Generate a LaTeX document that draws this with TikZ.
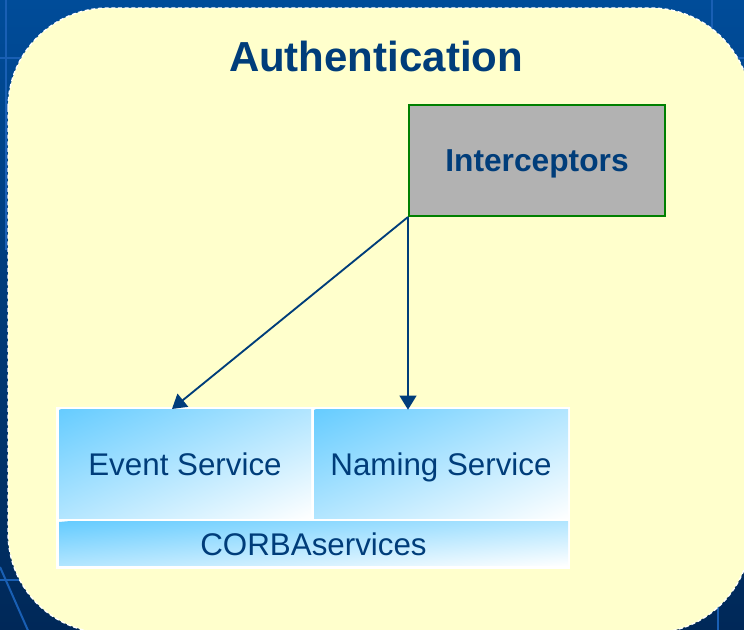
\documentclass[tikz,border=0pt]{standalone}
\usepackage{fontspec}
\setmainfont{Liberation Sans}
\usetikzlibrary{calc,arrows.meta}

\definecolor{slideblue}{RGB}{0,76,153}
\definecolor{slidedark}{RGB}{0,40,88}
\definecolor{gridblue}{RGB}{25,95,180}
\definecolor{paleyellow}{RGB}{255,255,204}
\definecolor{textblue}{RGB}{0,61,122}
\definecolor{skyblue}{RGB}{102,204,255}
\definecolor{boxgray}{RGB}{178,178,178}
\definecolor{boxgreen}{RGB}{0,128,0}

\begin{document}
\begin{tikzpicture}[x=0.75pt, y=-0.75pt,
  service/.style={rectangle, inner sep=0pt, text=textblue, text height=16.9pt, text depth=0pt,
    font=\fontsize{23.5}{28}\selectfont},
  fade/.style={top color=skyblue, bottom color=white},
  link/.style={-{Triangle[length=10.5pt,width=12.5pt]}, draw=textblue, line width=1.4pt}]
% \draw[step=50,gray!50,very thin] (0,0) grid (744,630);

\useasboundingbox (0,0) rectangle (744,630);
\shade[top color=slideblue, bottom color=slidedark] (0,0) rectangle (744,630);
\draw[gridblue, line width=1.5pt] (6,0) -- (6,250);
\draw[gridblue, line width=1.5pt] (0,58) -- (60,58);
\draw[gridblue, line width=1.5pt] (712,0) -- (712,60);
\draw[gridblue, line width=1.5pt] (700,58) -- (744,58);
\draw[gridblue, line width=1.5pt] (0,567) -- (30,635);
\draw[gridblue, line width=1.5pt] (0,580) -- (30,580);
\draw[gridblue, line width=1.5pt] (718,590) -- (718,630);

\filldraw[fill=paleyellow, draw=white, densely dashed, line width=1pt, rounded corners=75pt] (8,8) rectangle (751,633);

\node[anchor=base, text=textblue, font=\bfseries\fontsize{31.5}{36}\selectfont] (title) at (376,72) {Authentication};

\node[draw=boxgreen, fill=boxgray, line width=1.5pt, minimum width=192pt, minimum height=83.25pt,
  text=textblue, text height=17.2pt, text depth=0pt,
  font=\bfseries\fontsize{23.8}{28}\selectfont] (icp) at (537,160.5) {Interceptors};

% white frame and corner to corner fades
\fill[white] (56,407) rectangle (570,569);
\begin{scope}
  \clip (59,410) rectangle (311,519);
  \shade[fade, transform canvas={shift={(185,464.5)}, rotate=23.4}] (-110pt,-75.04pt) rectangle (110pt,75.04pt);
\end{scope}
\begin{scope}
  \clip (314,410) rectangle (568,519);
  \shade[fade, transform canvas={shift={(441,464.5)}, rotate=23.2}] (-110pt,-75.13pt) rectangle (110pt,75.13pt);
\end{scope}
\begin{scope}
  \clip (59,522) rectangle (568,566);
  \shade[fade, transform canvas={shift={(313.5,544)}, rotate=4.94}] (-200pt,-32.88pt) rectangle (200pt,32.88pt);
\end{scope}

\node[service, minimum width=189pt, minimum height=81.75pt] (evt) at (185,464.5) {Event Service};
\node[service, minimum width=190.5pt, minimum height=81.75pt] (nam) at (441,464.5) {Naming Service};
\node[service, minimum width=381.75pt, minimum height=33pt] (corba) at (313.5,544) {CORBAservices};

\coordinate (evtip) at (172,409);
\draw[link] (icp.south west) -- (evtip);
\draw[link] (icp.south west) -- (icp.south west |- nam.north);

\end{tikzpicture}
\end{document}
